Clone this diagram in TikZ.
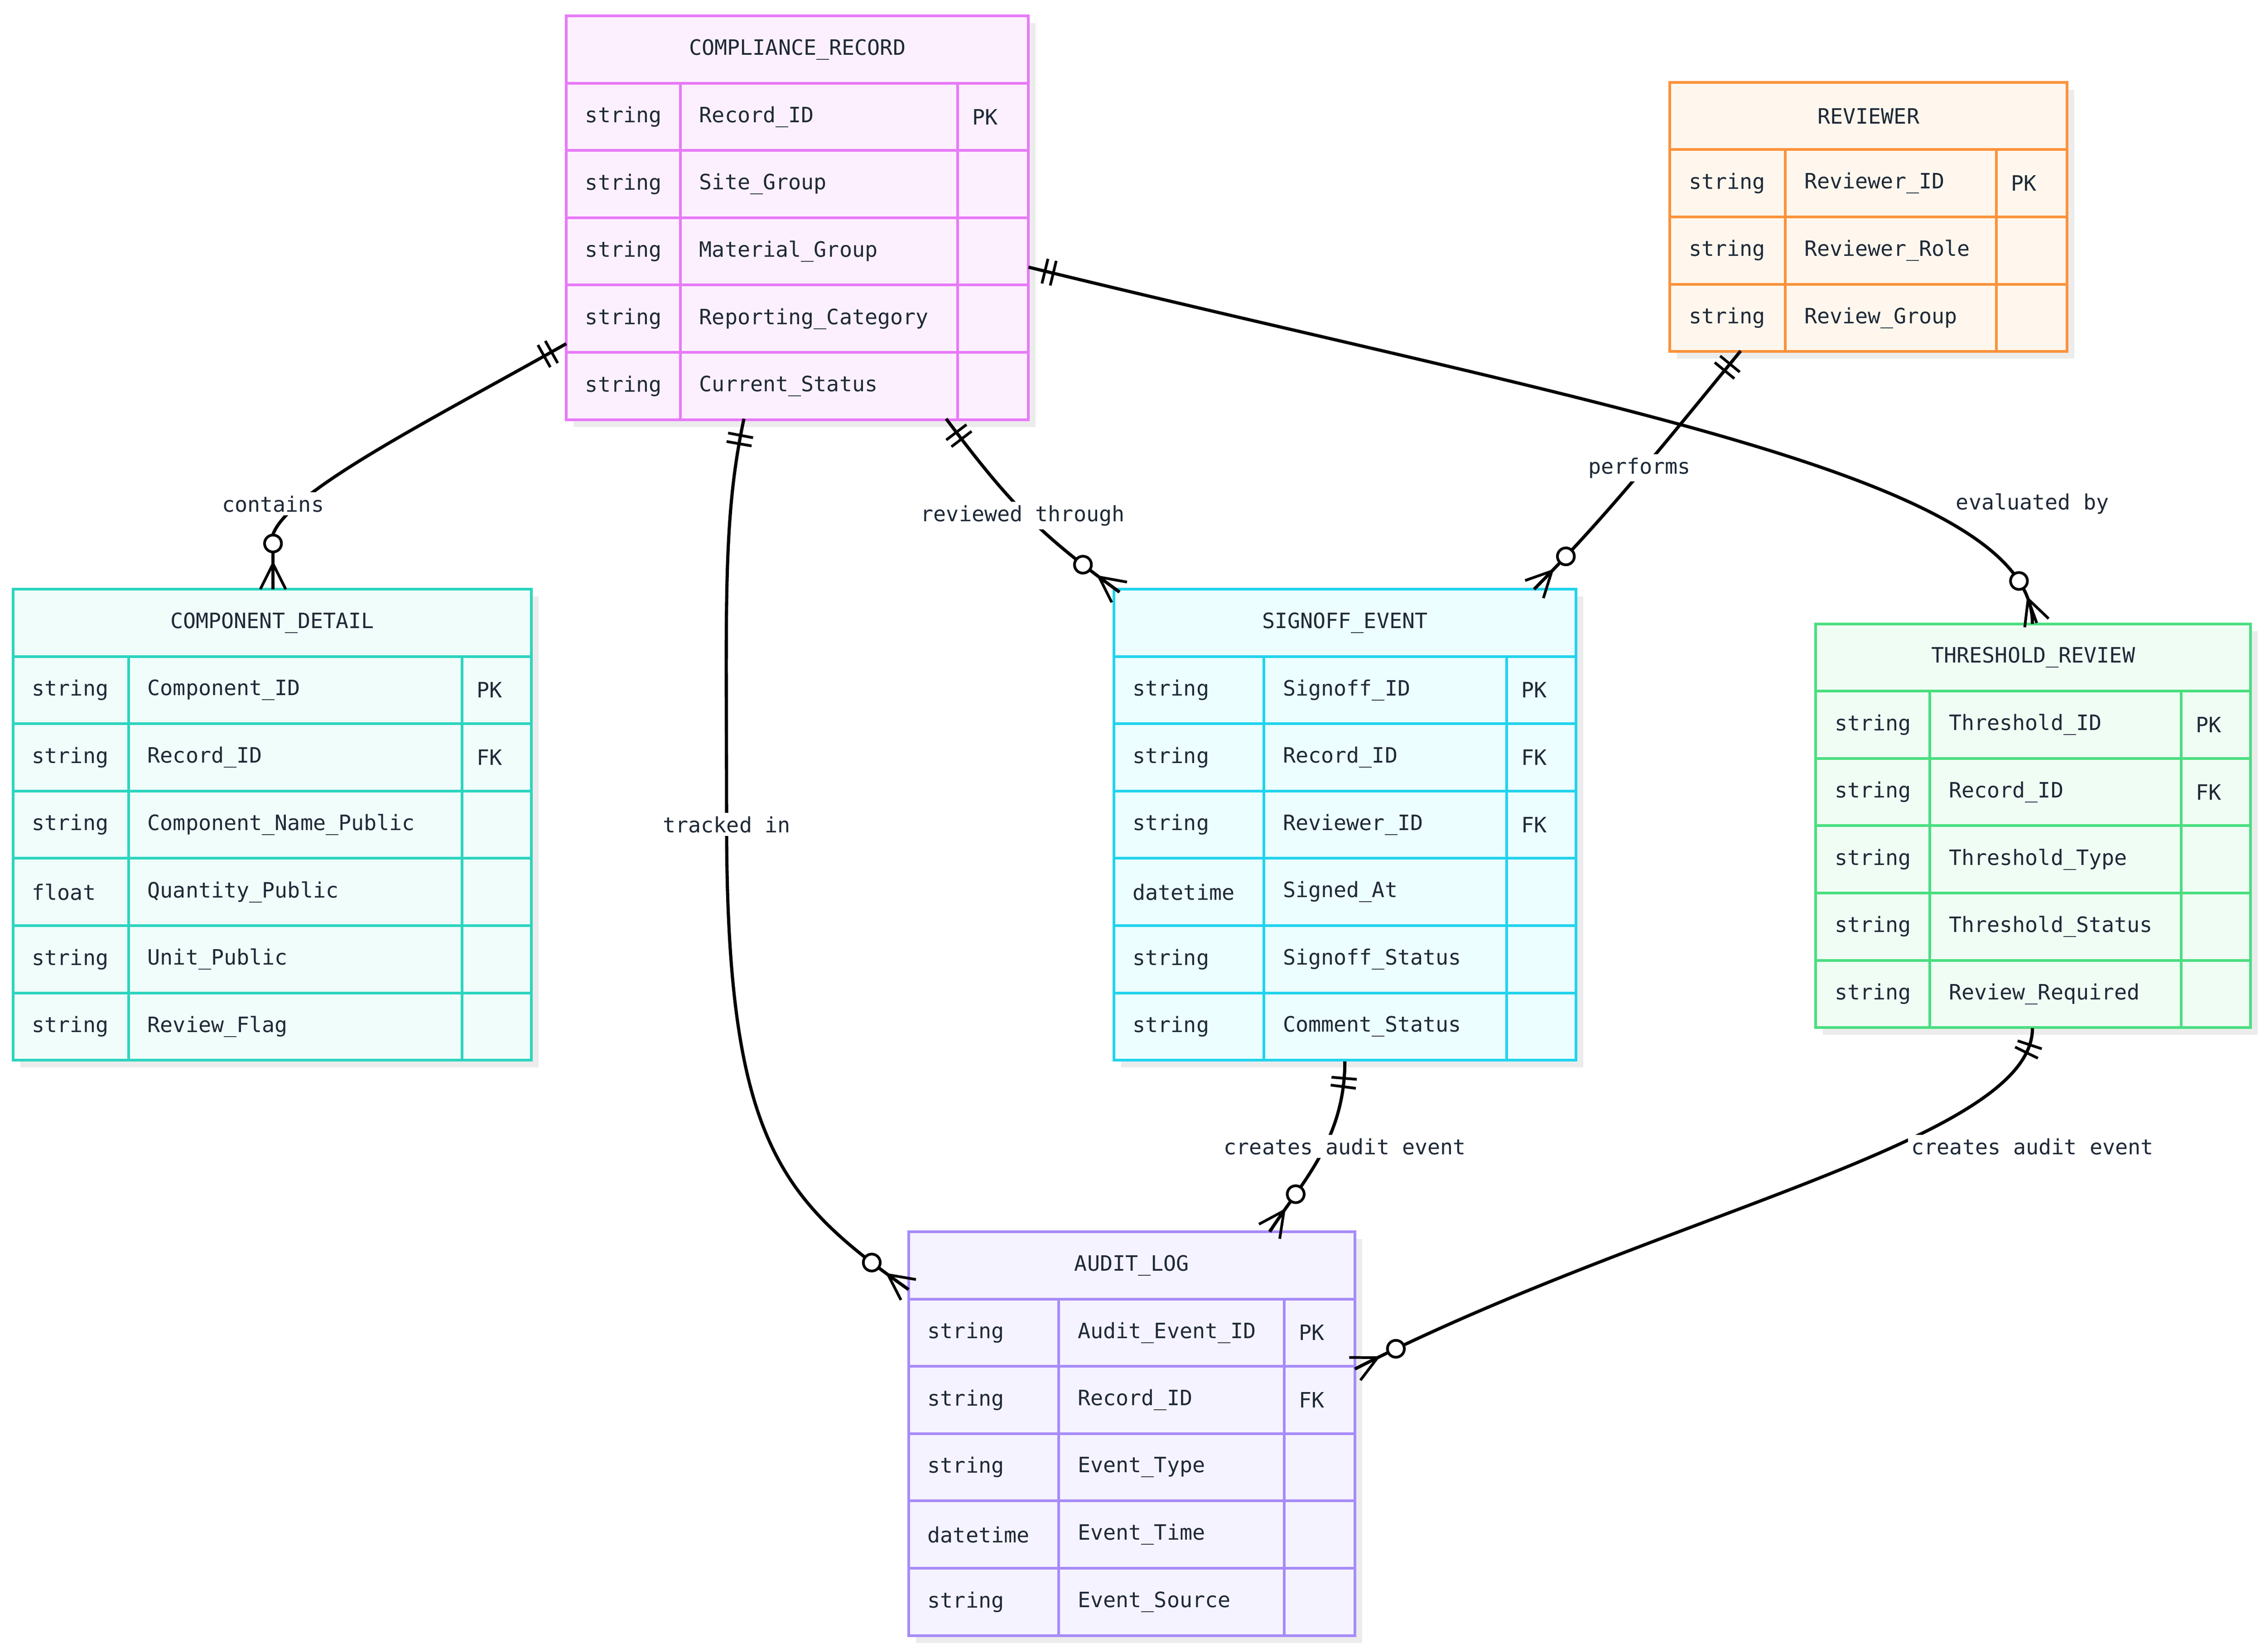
\documentclass[tikz,border=0pt]{standalone}
\usepackage{fontspec}
\setmainfont{DejaVu Sans Mono}
\usepackage{tikz}
\usetikzlibrary{calc}
\usetikzlibrary{decorations.markings}
\definecolor{crline}{HTML}{E879F9}\definecolor{crfill}{HTML}{FDF0FE}
\definecolor{rvline}{HTML}{FB923C}\definecolor{rvfill}{HTML}{FFF7ED}
\definecolor{cdline}{HTML}{2DD4BF}\definecolor{cdfill}{HTML}{F0FDFA}
\definecolor{seline}{HTML}{22D3EE}\definecolor{sefill}{HTML}{ECFEFF}
\definecolor{trline}{HTML}{4ADE80}\definecolor{trfill}{HTML}{F0FDF4}
\definecolor{alline}{HTML}{A78BFA}\definecolor{alfill}{HTML}{F5F3FF}
\definecolor{ink}{HTML}{1F2937}
\newcommand{\rh}{46.6}
% box with header: name, title, x0, x1, y0, rows, line, fill
\newcommand{\erBox}[8]{ \fill[gray!15] (#3+5,#5+5) rectangle (#4+5,#5+\rh*#6+\rh+5); \filldraw[draw=#7, fill=#8, line width=1.6pt] (#3,#5) rectangle (#4,#5+\rh*#6+\rh); \node[text=ink] (#1) at ({(#3+#4)/2},#5+\rh/2) {#2};}
% row: index, type, name, key (uses \xa \xb \xc \xd \ya \ec)
\newcommand{\erRow}[4]{ \draw[draw=\ec, line width=1.6pt] (\xa,\ya+\rh*#1) rectangle (\xd,\ya+\rh*#1+\rh) (\xb,\ya+\rh*#1) -- (\xb,\ya+\rh*#1+\rh) (\xc,\ya+\rh*#1) -- (\xc,\ya+\rh*#1+\rh); \node[anchor=west, text=ink] at (\xa+9,\ya+\rh*#1+\rh/2) {#2}; \node[anchor=west, text=ink] at (\xb+9,\ya+\rh*#1+\rh/2) {#3}; \node[anchor=west, text=ink] at (\xc+6,\ya+\rh*#1+\rh/2) {#4};}
\tikzset{
  rel/.style={line width=1.9pt, postaction={decorate, decoration={markings,
    mark=at position 10pt with {\draw[line width=1.6pt] (0,-7.5pt) -- (0,7.5pt);},
    mark=at position 15pt with {\draw[line width=1.6pt] (0,-7.5pt) -- (0,7.5pt);},
    mark=at position -15pt with {\draw[line width=1.6pt] (0,0) -- (15pt,7.5pt) (0,0) -- (15pt,-7.5pt) (0,0) -- (15pt,0);},
    mark=at position -27pt with {\filldraw[fill=white, line width=1.6pt] (0,0) circle (5pt);}}}},
  lbl/.style={fill=white, inner sep=2pt, text=ink}
}
\begin{document}
\begin{tikzpicture}[x=0.03cm, y=-0.03cm, font=\fontsize{12.5}{14}\selectfont]
  \useasboundingbox[fill=white] (0,0) rectangle (1568,1144);
  % compliance record
  \erBox{cr}{COMPLIANCE\_RECORD}{392}{712}{11}{5}{crline}{crfill}
  \def\xa{392}\def\xb{471}\def\xc{663}\def\xd{712}\def\ya{11}\def\ec{crline}
  \foreach \t/\n/\k [count=\i] in {string/Record\_ID/PK, string/Site\_Group/, string/Material\_Group/, string/Reporting\_Category/, string/Current\_Status/}
    {\erRow{\i}{\t}{\n}{\k}}
  % reviewer
  \erBox{rv}{REVIEWER}{1156}{1431}{57}{3}{rvline}{rvfill}
  \def\xa{1156}\def\xb{1236}\def\xc{1382}\def\xd{1431}\def\ya{57}\def\ec{rvline}
  \foreach \t/\n/\k [count=\i] in {string/Reviewer\_ID/PK, string/Reviewer\_Role/, string/Review\_Group/}
    {\erRow{\i}{\t}{\n}{\k}}
  % component detail
  \erBox{cd}{COMPONENT\_DETAIL}{9}{368}{408}{6}{cdline}{cdfill}
  \def\xa{9}\def\xb{89}\def\xc{320}\def\xd{368}\def\ya{408}\def\ec{cdline}
  \foreach \t/\n/\k [count=\i] in {string/Component\_ID/PK, string/Record\_ID/FK, string/Component\_Name\_Public/, float/Quantity\_Public/, string/Unit\_Public/, string/Review\_Flag/}
    {\erRow{\i}{\t}{\n}{\k}}
  % signoff event
  \erBox{se}{SIGNOFF\_EVENT}{771}{1091}{408}{6}{seline}{sefill}
  \def\xa{771}\def\xb{875}\def\xc{1043}\def\xd{1091}\def\ya{408}\def\ec{seline}
  \foreach \t/\n/\k [count=\i] in {string/Signoff\_ID/PK, string/Record\_ID/FK, string/Reviewer\_ID/FK, datetime/Signed\_At/, string/Signoff\_Status/, string/Comment\_Status/}
    {\erRow{\i}{\t}{\n}{\k}}
  % threshold review
  \erBox{tr}{THRESHOLD\_REVIEW}{1257}{1558}{432}{5}{trline}{trfill}
  \def\xa{1257}\def\xb{1336}\def\xc{1510}\def\xd{1558}\def\ya{432}\def\ec{trline}
  \foreach \t/\n/\k [count=\i] in {string/Threshold\_ID/PK, string/Record\_ID/FK, string/Threshold\_Type/, string/Threshold\_Status/, string/Review\_Required/}
    {\erRow{\i}{\t}{\n}{\k}}
  % audit log
  \erBox{al}{AUDIT\_LOG}{629}{938}{853}{5}{alline}{alfill}
  \def\xa{629}\def\xb{733}\def\xc{889}\def\xd{938}\def\ya{853}\def\ec{alline}
  \foreach \t/\n/\k [count=\i] in {string/Audit\_Event\_ID/PK, string/Record\_ID/FK, string/Event\_Type/, datetime/Event\_Time/, string/Event\_Source/}
    {\erRow{\i}{\t}{\n}{\k}}
  % end points
  \coordinate (cr-l) at (392,238);
  \coordinate (cr-b1) at (515,290);
  \coordinate (cr-b2) at (655,290);
  \coordinate (cr-r) at (712,185);
  \coordinate (rv-b) at (1205,243);
  \coordinate (cd-t) at (189,408);
  \coordinate (se-tl) at (775,410);
  \coordinate (se-tr) at (1062,408);
  \coordinate (se-b) at (931,735);
  \coordinate (tr-t) at (1407,432);
  \coordinate (tr-b) at (1407,712);
  \coordinate (al-l) at (629,893);
  \coordinate (al-t) at (879,853);
  \coordinate (al-r) at (938,948);
  % relations
  \draw[rel] (cr-l) .. controls (300,290) and (200,340) .. (189,370) -- (cd-t);
  \node[lbl] (l1) at (189,349) {contains};
  \draw[rel] (cr-b1) .. controls (500,360) and (503,420) .. (503,570) .. controls (503,790) and (540,830) .. (al-l);
  \node[lbl] (l2) at (503,571) {tracked in};
  \draw[rel] (cr-b2) .. controls (700,350) and (720,370) .. (se-tl);
  \node[lbl] (l3) at (708,357) {reviewed through};
  \draw[rel] (cr-r) .. controls (1100,280) and (1407,330) .. (tr-t);
  \node[lbl] (l4) at (1407,349) {evaluated by};
  \draw[rel] (rv-b) .. controls (1150,310) and (1110,360) .. (se-tr);
  \node[lbl] (l5) at (1135,324) {performs};
  \draw[rel] (se-b) .. controls (931,790) and (900,820) .. (al-t);
  \node[lbl] (l6) at (931,794) {creates audit event};
  \draw[rel] (tr-b) .. controls (1407,790) and (1150,840) .. (al-r);
  \node[lbl] (l7) at (1407,794) {creates audit event};
\end{tikzpicture}
\end{document}
